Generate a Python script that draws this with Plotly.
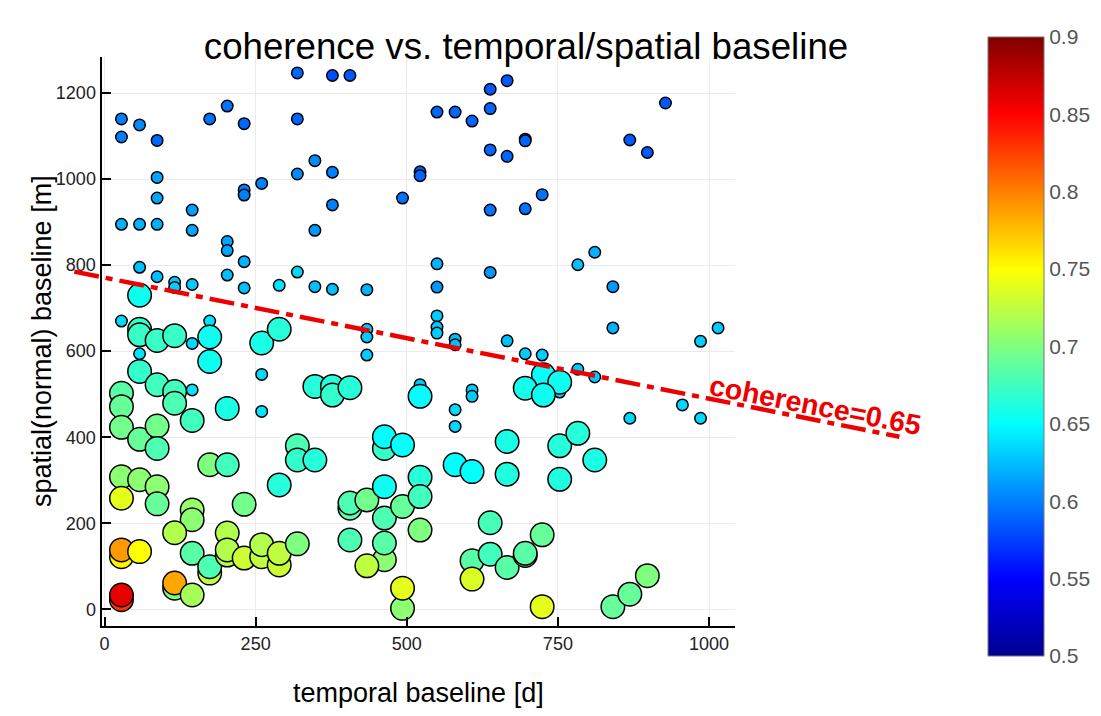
import numpy as np
import plotly.graph_objects as go

# ---------------- data ----------------
temporal_baseline_days = [
    # small markers (low coherence)
    28, 28, 58, 87, 87, 87, 28, 58, 87, 145, 145, 58, 87, 116, 116, 145, 28,
    174, 203, 231, 231, 231, 260, 203, 203, 231, 203, 231, 289,
    319, 319, 319, 348, 377, 377, 348, 319, 348, 377, 377, 406,
    434, 434, 434, 434, 174, 145, 58, 145, 260, 260,
    666, 638, 638, 550, 580, 608, 928, 696, 696, 638, 666, 869, 898, 522, 522,
    493, 638, 696, 724, 550, 550, 638, 783, 811, 841, 841, 986, 1015,
    550, 550, 550, 580, 580, 666,
    696, 724, 783, 811, 753, 522, 608, 608, 580, 580, 869, 956, 986,
    # large markers (high coherence)
    58, 58, 58, 87, 116, 174, 174, 260, 289, 58, 87, 116, 116, 28, 28, 203,
    145, 28, 58, 87, 87, 174, 203, 319, 319, 348, 289, 348, 377, 377, 406,
    28, 58, 87, 87, 28, 231, 145, 145, 116, 28, 28, 58, 145, 174, 174, 203,
    203, 203, 231, 260, 260, 289, 289, 319, 28, 28, 116, 116, 145,
    406, 406, 434, 463, 463, 493, 406, 463, 463, 434, 493, 493, 463, 463, 493,
    726, 696, 753, 726, 522, 666, 753, 783, 811, 580, 608, 666, 753, 522, 522,
    522, 638, 608, 638, 666, 696, 696, 724, 608, 724, 841, 869, 898,
]
spatial_baseline_m = [
    1140, 1098, 1126, 1090, 1004, 956, 895, 895, 895, 928, 881, 795, 773, 760, 748, 755, 670,
    1140, 1170, 1129, 975, 963, 990, 855, 834, 808, 777, 747, 753,
    1247, 1140, 1012, 1043, 1016, 940, 881, 784, 750, 744, 1241, 1241,
    743, 651, 633, 591, 670, 618, 594, 510, 546, 460,
    1229, 1209, 1164, 1156, 1156, 1135, 1177, 1093, 1089, 1068, 1053, 1091, 1062, 1017, 1008,
    956, 928, 931, 964, 803, 749, 783, 801, 830, 750, 654, 623, 654,
    682, 656, 642, 628, 615, 624,
    594, 591, 558, 540, 505, 522, 510, 495, 464, 425, 444, 475, 444,
    730, 651, 638, 625, 636, 633, 576, 619, 651, 553, 522, 506, 479, 502, 471, 467,
    439, 423, 395, 426, 374, 336, 336, 380, 347, 347, 289, 518, 518, 498, 515,
    308, 301, 285, 245, 258, 244, 231, 208, 178, 122, 138, 134, 130, 84, 99, 177,
    126, 138, 119, 122, 150, 103, 130, 152, 22, 33, 49, 61, 33,
    235, 247, 254, 285, 212, 239, 161, 115, 154, 101, 2, 49, 374, 401, 382,
    545, 514, 528, 498, 495, 390, 380, 409, 347, 336, 320, 314, 302, 307, 262,
    184, 201, 113, 128, 97, 125, 130, 173, 70, 6, 6, 35, 78,
]
coherence = [
    0.600, 0.600, 0.605, 0.590, 0.615, 0.615, 0.620, 0.620, 0.620, 0.612, 0.615, 0.625, 0.625, 0.630, 0.630, 0.630, 0.635,
    0.595, 0.595, 0.590, 0.600, 0.600, 0.600, 0.615, 0.615, 0.620, 0.625, 0.625, 0.640,
    0.590, 0.590, 0.605, 0.605, 0.600, 0.600, 0.610, 0.635, 0.625, 0.625, 0.580, 0.585,
    0.620, 0.630, 0.630, 0.630, 0.640, 0.635, 0.640, 0.640, 0.635, 0.640,
    0.585, 0.585, 0.590, 0.590, 0.590, 0.590, 0.585, 0.585, 0.590, 0.590, 0.590, 0.585, 0.585, 0.585, 0.590,
    0.595, 0.595, 0.595, 0.595, 0.620, 0.610, 0.610, 0.625, 0.620, 0.610, 0.620, 0.630, 0.630,
    0.630, 0.630, 0.630, 0.625, 0.625, 0.625,
    0.630, 0.630, 0.630, 0.630, 0.635, 0.630, 0.630, 0.630, 0.635, 0.635, 0.635, 0.635, 0.635,
    0.655, 0.670, 0.672, 0.672, 0.672, 0.655, 0.655, 0.660, 0.665, 0.670, 0.675, 0.675, 0.680, 0.685, 0.690, 0.660,
    0.675, 0.695, 0.690, 0.695, 0.680, 0.700, 0.675, 0.680, 0.670, 0.665, 0.665, 0.665, 0.665, 0.670, 0.665,
    0.705, 0.705, 0.705, 0.690, 0.740, 0.695, 0.710, 0.705, 0.720, 0.755, 0.790, 0.750, 0.685, 0.725, 0.680, 0.720,
    0.720, 0.720, 0.730, 0.725, 0.720, 0.730, 0.725, 0.700, 0.830, 0.860, 0.700, 0.785, 0.715,
    0.685, 0.680, 0.695, 0.655, 0.680, 0.690, 0.680, 0.705, 0.685, 0.725, 0.705, 0.740, 0.670, 0.650, 0.652,
    0.652, 0.658, 0.655, 0.655, 0.650, 0.660, 0.665, 0.665, 0.660, 0.650, 0.652, 0.662, 0.662, 0.665, 0.675,
    0.700, 0.678, 0.685, 0.675, 0.685, 0.690, 0.685, 0.690, 0.735, 0.740, 0.690, 0.690, 0.700,
]

threshold_line_days = [-50, 1315]
threshold_line_m = [785, 401]
threshold_label = "coherence=0.65"
coherence_threshold = 0.645

x_tick_values = [0, 250, 500, 750, 1000]
y_tick_values = [0, 200, 400, 600, 800, 1000, 1200]
cbar_tick_values = [0.5, 0.55, 0.6, 0.65, 0.7, 0.75, 0.8, 0.85, 0.9]
cbar_tick_text = ["0.5", "0.55", "0.6", "0.65", "0.7", "0.75", "0.8", "0.85", "0.9"]

# ---------------- styling ----------------
jet = [
    [0.0, "rgb(0,0,143)"],
    [0.125, "rgb(0,0,255)"],
    [0.375, "rgb(0,255,255)"],
    [0.625, "rgb(255,255,0)"],
    [0.875, "rgb(255,0,0)"],
    [1.0, "rgb(128,0,0)"],
]
FONT = "Liberation Sans, Arial, sans-serif"

coh = np.array(coherence)
sizes = np.where(coh >= coherence_threshold, 23.5, 11.5)

# geometry (page pixels; the page body adds an 8 px offset to the figure)
OFF = 8
W, H = 1101 - OFF, 716 - OFF
P_LEFT, P_RIGHT, P_TOP, P_BOTTOM = 60, 930, 57, 626      # paper box on the page
ML, MR, MT, MB = P_LEFT - OFF, (W + OFF) - P_RIGHT, P_TOP - OFF, (H + OFF) - P_BOTTOM
PW, PH = P_RIGHT - P_LEFT, P_BOTTOM - P_TOP


def px(xp):
    return (xp - P_LEFT) / PW


def py(yp):
    return (P_BOTTOM - yp) / PH


x_range = [-5, 1043]
y_range = [-39, 1284]
x_dom = [px(101.5), px(735)]

# second (invisible) x axis with identical scale but wider domain, so the
# threshold line can run beyond the axes like in the reference
scale = (x_dom[1] - x_dom[0]) / (x_range[1] - x_range[0])
x2_range = [x_range[0] - x_dom[0] / scale, x_range[0] + (1 - x_dom[0]) / scale]

fig = go.Figure()
fig.add_trace(go.Scatter(
    x=temporal_baseline_days, y=spatial_baseline_m, mode="markers",
    marker=dict(
        size=sizes, color=coherence, colorscale=jet, cmin=0.5, cmax=0.9,
        line=dict(color="black", width=1.5), opacity=1,
        showscale=True,
        colorbar=dict(
            x=px(988), xanchor="left", xpad=0,
            y=py(346.5), yanchor="middle", ypad=0,
            len=619, lenmode="pixels", thickness=56, thicknessmode="pixels",
            outlinewidth=1, outlinecolor="#777777",
            tickvals=cbar_tick_values, ticktext=cbar_tick_text, ticks="",
            tickfont=dict(family=FONT, size=21, color="#555555"),
        ),
    ),
    hoverinfo="x+y", showlegend=False,
))
fig.add_trace(go.Scatter(
    x=threshold_line_days, y=threshold_line_m, mode="lines",
    xaxis="x2", yaxis="y2",
    line=dict(color="rgb(238,0,0)", width=4.5, dash="25px,7px,7px,7px"),
    showlegend=False, hoverinfo="skip",
))

axis_common = dict(
    showline=True, linecolor="black", linewidth=2, mirror=False,
    ticks="inside", ticklen=9, tickwidth=1.5, tickcolor="black",
    showgrid=True, gridcolor="#ebebeb", gridwidth=1, zeroline=False,
    tickfont=dict(family=FONT, size=18, color="#222222"),
)

fig.update_layout(
    width=W, height=H,
    margin=dict(l=ML, r=MR, t=MT, b=MB, autoexpand=False),
    paper_bgcolor="white", plot_bgcolor="rgba(0,0,0,0)",
    title=dict(
        text="coherence vs. temporal/spatial baseline",
        x=px(526), xref="paper", xanchor="center",
        y=1 - (46 - OFF) / H, yref="container", yanchor="middle",
        font=dict(family=FONT, size=36.7, color="black"),
    ),
    xaxis=dict(domain=x_dom, range=x_range, tickvals=x_tick_values,
               anchor="y", **axis_common),
    yaxis=dict(domain=[0, 1], range=y_range, tickvals=y_tick_values,
               anchor="x", **axis_common),
    xaxis2=dict(domain=[0, 1], range=x2_range, visible=False, anchor="y2"),
    yaxis2=dict(domain=[0, 1], range=y_range, visible=False, anchor="x2"),
    annotations=[
        dict(text="temporal baseline [d]", xref="paper", yref="paper",
             x=px(418), y=py(693),
             xanchor="center", yanchor="middle", showarrow=False,
             font=dict(family=FONT, size=27, color="black")),
        dict(text="spatial(normal) baseline [m]", xref="paper", yref="paper",
             x=px(42), y=py(341), textangle=-90,
             xanchor="center", yanchor="middle", showarrow=False,
             font=dict(family=FONT, size=27, color="black")),
        dict(text="<b>" + threshold_label + "</b>", xref="paper", yref="paper",
             x=px(815), y=py(405),
             xanchor="center", yanchor="middle", showarrow=False, textangle=11,
             font=dict(family=FONT, size=28.5, color="rgb(238,0,0)")),
    ],
)

fig.write_html("out.html")
